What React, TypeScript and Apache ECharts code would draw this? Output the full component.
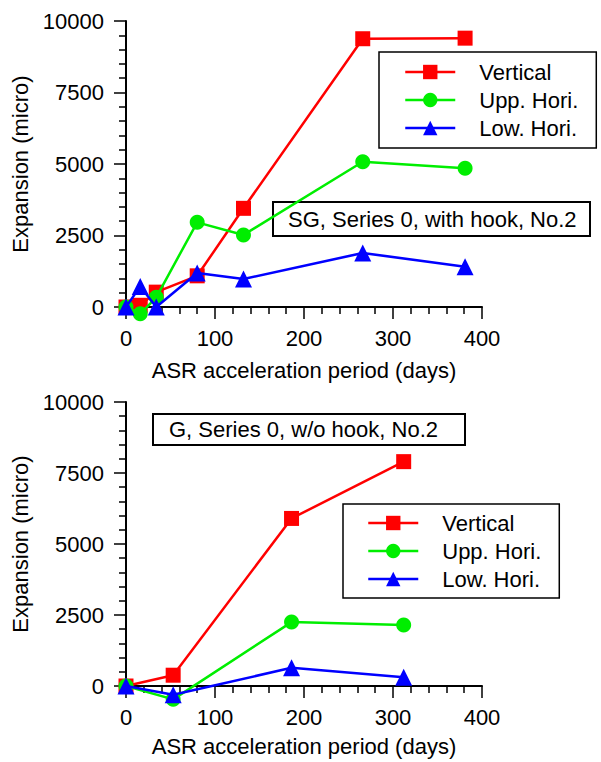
import React, { useEffect, useRef } from "react";
import * as echarts from "echarts";

const seriesNames = ["Vertical", "Upp. Hori.", "Low. Hori."];
const colors = ["#ff0000", "#00ee00", "#0000ff"];
const symbols = ["rect", "circle", "triangle"];

const topDays = [0, 16, 34, 80, 132, 266, 381];
const topVertical = [0, 60, 520, 1090, 3450, 9380, 9400];
const topUpper = [0, -240, 340, 2960, 2520, 5080, 4850];
const topLower = [0, 720, 0, 1190, 980, 1890, 1410];

const bottomDays = [0, 53, 186, 312];
const bottomVertical = [0, 380, 5900, 7900];
const bottomUpper = [0, -470, 2250, 2150];
const bottomLower = [0, -310, 640, 310];

const xTicks = { min: 0, max: 400, interval: 100 };
const yTicks = { min: 0, max: 10000, interval: 2500 };

const topLabel = "SG, Series 0, with hook, No.2";
const bottomLabel = "G, Series 0, w/o hook, No.2";
const xTitle = "ASR acceleration period (days)";
const yTitle = "Expansion (micro)";

const FONT = "'Liberation Sans', Arial, sans-serif";
const FS = 22;

function pairs(xs: number[], ys: number[]) {
  return xs.map((x, i) => [x, ys[i]]);
}

export default function App() {
  const ref = useRef<HTMLDivElement>(null);
  useEffect(() => {
    if (!ref.current) return;
    const chart = echarts.init(ref.current, null, { renderer: "svg" });
    const axisCommon = {
      axisLine: { show: true, onZero: false, lineStyle: { color: "#000", width: 2 } },
      axisTick: { show: true, inside: false, length: 12, lineStyle: { color: "#000", width: 1.5 } },
      minorTick: { show: true, splitNumber: 5, length: 7, lineStyle: { color: "#000", width: 1.5 } },
      splitLine: { show: false },
      axisLabel: { color: "#000", fontSize: FS, fontFamily: FONT, formatter: (v: number) => String(v) },
      nameTextStyle: { color: "#000", fontSize: FS, fontFamily: FONT },
    };
    const xAxis = [0, 1].map((g) => ({
      type: "value",
      gridIndex: g,
      ...xTicks,
      ...axisCommon,
      axisLabel: { ...axisCommon.axisLabel, margin: 20 },
      name: xTitle,
      nameLocation: "middle",
      nameGap: g === 0 ? 52 : 49,
    }));
    const yAxis = [0, 1].map((g) => ({
      type: "value",
      gridIndex: g,
      ...yTicks,
      ...axisCommon,
      axisLabel: { ...axisCommon.axisLabel, margin: 22 },
      name: yTitle,
      nameLocation: "middle",
      nameGap: 87,
    }));
    const mk = (name: string, idx: number, g: number, data: number[][]) => ({
      type: "line",
      name,
      xAxisIndex: g,
      yAxisIndex: g,
      data,
      clip: false,
      symbol: symbols[idx],
      symbolSize: idx === 2 ? 17 : 15,
      showAllSymbol: true,
      itemStyle: { color: colors[idx] },
      lineStyle: { color: colors[idx], width: 2.5 },
      z: 2 + idx,
    });
    const legendCommon = {
      orient: "vertical",
      data: seriesNames,
      itemWidth: 50,
      itemHeight: 18,
      itemGap: 6,
      selectedMode: false,
      backgroundColor: "#fff",
      borderColor: "#000",
      borderWidth: 1.5,
      borderRadius: 0,
      lineStyle: { width: 2.5 },
      textStyle: { color: "#000", fontSize: FS, fontFamily: FONT, padding: [0, 0, 0, 19] },
    };
    const textBox = (x: number, y: number, w: number, h: number, text: string, tx: number) => ({
      type: "group",
      z: 100,
      children: [
        {
          type: "rect",
          shape: { x, y, width: w, height: h },
          style: { fill: "#fff", stroke: "#000", lineWidth: 2 },
        },
        {
          type: "text",
          x: tx,
          y: y + h / 2,
          style: { text, fill: "#000", fontSize: FS, fontFamily: FONT, verticalAlign: "middle", align: "left" },
        },
      ],
    });
    chart.setOption({
      animation: false,
      backgroundColor: "#fff",
      grid: [
        { left: 126, top: 21, width: 356, height: 286 },
        { left: 126, top: 402, width: 356, height: 284 },
      ],
      xAxis,
      yAxis,
      legend: [
        { ...legendCommon, left: 379, top: 52, padding: [9, 18, 9, 25] },
        { ...legendCommon, left: 343, top: 504, padding: [8, 18, 8, 24] },
      ],
      series: [
        mk(seriesNames[0], 0, 0, pairs(topDays, topVertical)),
        mk(seriesNames[1], 1, 0, pairs(topDays, topUpper)),
        mk(seriesNames[2], 2, 0, pairs(topDays, topLower)),
        mk(seriesNames[0], 0, 1, pairs(bottomDays, bottomVertical)),
        mk(seriesNames[1], 1, 1, pairs(bottomDays, bottomUpper)),
        mk(seriesNames[2], 2, 1, pairs(bottomDays, bottomLower)),
      ],
      graphic: [textBox(273, 202, 317, 34, topLabel, 288), textBox(153, 414, 312, 31, bottomLabel, 169)],
    });
    return () => chart.dispose();
  }, []);
  return <div ref={ref} style={{ position: "absolute", left: 0, top: 0, width: 601, height: 762 }} />;
}
